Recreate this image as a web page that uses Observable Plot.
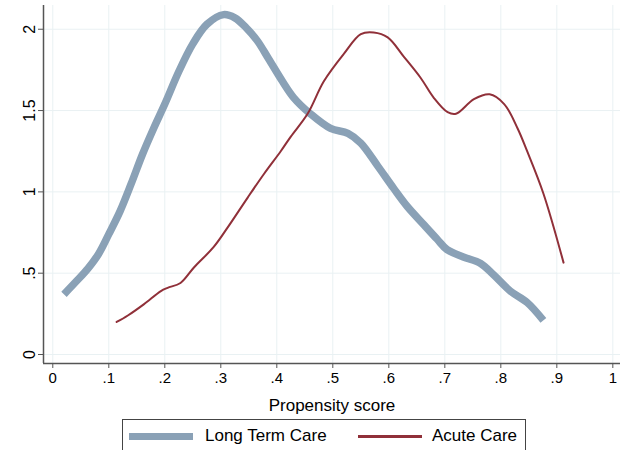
<!DOCTYPE html>
<html>
<head>
<meta charset="utf-8">
<script src="https://cdn.jsdelivr.net/npm/d3@7"></script>
<script src="https://cdn.jsdelivr.net/npm/@observablehq/plot@0.6"></script>
<style>
  html, body { margin: 0; padding: 0; background: #fff; }
  body { font-family: "Liberation Sans", Arial, sans-serif; width: 620px; height: 450px; overflow: hidden; }
  #legend { position: absolute; left: 122px; top: 419px; width: 404px; height: 40px; border: 1px solid #444; box-sizing: border-box; background: #fff; }
  .sw { position: absolute; height: 7px; }
  .lt { position: absolute; font-size: 17px; color: #000; line-height: 17px; }
</style>
</head>
<body>
<div id="chart"></div>
<div id="legend">
  <div class="sw" id="sw1"></div><div class="lt" id="lt1"></div>
  <div class="sw" id="sw2"></div><div class="lt" id="lt2"></div>
</div>
<script>
const seriesNames = ["Long Term Care", "Acute Care"];
const seriesColors = ["#8aa1b6", "#903039"];

const ltcX = [0.02, 0.042, 0.063, 0.082, 0.1, 0.12, 0.14, 0.16, 0.18, 0.2, 0.225, 0.25, 0.275, 0.305, 0.325, 0.345, 0.365, 0.385, 0.41, 0.43, 0.46, 0.496, 0.527, 0.55, 0.58, 0.609, 0.633, 0.662, 0.686, 0.704, 0.733, 0.764, 0.787, 0.817, 0.847, 0.876];
const ltcY = [0.37, 0.45, 0.53, 0.62, 0.74, 0.88, 1.05, 1.23, 1.39, 1.54, 1.74, 1.91, 2.03, 2.09, 2.07, 2.01, 1.93, 1.82, 1.68, 1.58, 1.48, 1.39, 1.36, 1.30, 1.16, 1.02, 0.91, 0.80, 0.71, 0.645, 0.60, 0.56, 0.49, 0.39, 0.32, 0.21];

const acX = [0.114, 0.134, 0.163, 0.193, 0.205, 0.228, 0.252, 0.287, 0.312, 0.348, 0.377, 0.407, 0.425, 0.455, 0.484, 0.52, 0.55, 0.573, 0.598, 0.627, 0.657, 0.68, 0.705, 0.72, 0.752, 0.78, 0.806, 0.83, 0.847, 0.876, 0.912];
const acY = [0.20, 0.24, 0.31, 0.39, 0.41, 0.44, 0.535, 0.66, 0.78, 0.965, 1.11, 1.25, 1.34, 1.48, 1.68, 1.85, 1.97, 1.98, 1.95, 1.83, 1.70, 1.58, 1.49, 1.48, 1.57, 1.60, 1.54, 1.39, 1.25, 0.99, 0.565];

const xTicks = [0, 0.1, 0.2, 0.3, 0.4, 0.5, 0.6, 0.7, 0.8, 0.9, 1];
const xTickLabels = ["0", ".1", ".2", ".3", ".4", ".5", ".6", ".7", ".8", ".9", "1"];
const yTicks = [0, 0.5, 1, 1.5, 2];
const yTickLabels = ["0", ".5", "1", "1.5", "2"];
const xTitle = "Propensity score";

const ltc = ltcX.map((x, i) => ({x, y: ltcY[i]}));
const ac = acX.map((x, i) => ({x, y: acY[i]}));
const xDomain = [-0.0166, 1.0137];
const yDomain = [-0.0553, 2.146];
const axisColor = "#555";
const gridColor = "#e9f1f3";

const chart = Plot.plot({
  width: 620,
  height: 419,
  marginLeft: 43,
  marginRight: 0,
  marginTop: 5,
  marginBottom: 56,
  style: {fontFamily: "'Liberation Sans', Arial, sans-serif", fontSize: "15px", color: "#000", background: "#fff"},
  x: {domain: xDomain},
  y: {domain: yDomain},
  marks: [
    Plot.gridX(xTicks, {stroke: gridColor, strokeOpacity: 1, strokeWidth: 1}),
    Plot.gridY(yTicks, {stroke: gridColor, strokeOpacity: 1, strokeWidth: 1}),
    Plot.axisX(xTicks, {
      tickFormat: (d) => xTickLabels[xTicks.indexOf(d)],
      tickSize: 5, tickPadding: 4, stroke: axisColor, fill: "#000",
      label: null, fontSize: 15
    }),
    Plot.text([xTitle], {frameAnchor: "bottom", dy: 42, fontSize: 17, fill: "#000", lineAnchor: "middle"}),
    Plot.axisY(yTicks, {
      tickFormat: (d) => yTickLabels[yTicks.indexOf(d)],
      tickSize: 5, tickPadding: 4, tickRotate: -90, stroke: axisColor, fill: "#000",
      label: null, fontSize: 16
    }),
    Plot.ruleY([yDomain[0]], {stroke: axisColor, strokeWidth: 1.5}),
    Plot.ruleX([xDomain[0]], {stroke: axisColor, strokeWidth: 1.5}),
    Plot.line(ltc, {x: "x", y: "y", stroke: seriesColors[0], strokeWidth: 7.5, curve: "catmull-rom", strokeLinecap: "butt", strokeLinejoin: "round"}),
    Plot.line(ac, {x: "x", y: "y", stroke: seriesColors[1], strokeWidth: 2, curve: "catmull-rom"})
  ]
});
document.getElementById("chart").appendChild(chart);

const sw1 = document.getElementById("sw1");
sw1.style.cssText += `left:6px;top:13px;width:64px;background:${seriesColors[0]};`;
const lt1 = document.getElementById("lt1");
lt1.textContent = seriesNames[0];
lt1.style.cssText += "left:82px;top:7px;";
const sw2 = document.getElementById("sw2");
sw2.style.cssText += `left:235px;top:15px;width:64px;height:3px;background:${seriesColors[1]};`;
const lt2 = document.getElementById("lt2");
lt2.textContent = seriesNames[1];
lt2.style.cssText += "left:309px;top:7px;";
</script>
</body>
</html>
